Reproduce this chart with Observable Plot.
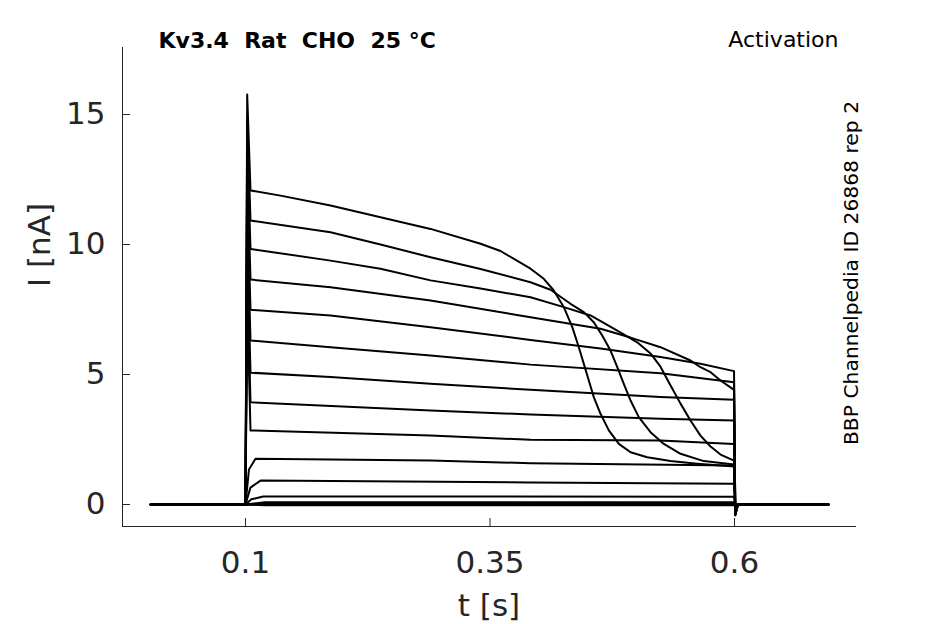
<!DOCTYPE html>
<html><head><meta charset="utf-8">
<script src="https://cdn.jsdelivr.net/npm/d3@7"></script>
<script src="https://cdn.jsdelivr.net/npm/@observablehq/plot@0.6"></script>
<style>html,body{margin:0;padding:0;background:#fff}</style>
</head><body><div id="chart"></div>
<script>
// ---- axis ticks ----
const xTicks = [0.1, 0.35, 0.6];
const xTickLabels = ["0.1", "0.35", "0.6"];
const yTicks = [0, 5, 10, 15];
const yTickLabels = ["0", "5", "10", "15"];

// ---- texts ----
const titleText = "Kv3.4  Rat  CHO  25 °C";
const protocolText = "Activation";
const sourceText = "BBP Channelpedia ID 26868 rep 2";
const xLabel = "t [s]";
const yLabel = "I [nA]";

// ---- recording timing [s] ----
const tRecordStart = 0.003, tStepOn = 0.1, tSpikePeak = 0.1017, tStepOff = 0.6, tDip = 0.6008, tBack = 0.6035, tRecordEnd = 0.696;

// ---- current traces during the step: [t (s), I (nA)] ----
const trace1 = [[0.1051,12.08],[0.1358,11.88],[0.1869,11.50],[0.2380,11.05],[0.2892,10.60],[0.3403,10.03],[0.3607,9.75],[0.3914,9.07],[0.4050,8.68],[0.4152,8.23],[0.4255,7.59],[0.4341,6.82],[0.4408,6.05],[0.4459,5.41],[0.4510,4.77],[0.4561,4.13],[0.4630,3.49],[0.4715,2.85],[0.4817,2.33],[0.4937,2.01],[0.5107,1.82],[0.5346,1.67],[0.5619,1.57],[0.5995,1.46]];
const trace2 = [[0.1051,10.92],[0.1869,10.47],[0.2380,10.00],[0.2892,9.51],[0.3403,9.06],[0.3914,8.55],[0.4119,8.26],[0.4323,7.72],[0.4459,7.40],[0.4561,7.01],[0.4647,6.50],[0.4732,5.92],[0.4801,5.28],[0.4868,4.64],[0.4937,4.00],[0.5021,3.36],[0.5141,2.78],[0.5277,2.33],[0.5448,1.95],[0.5686,1.67],[0.5995,1.54]];
const trace3 = [[0.1051,9.83],[0.1869,9.38],[0.2380,9.07],[0.2892,8.62],[0.3403,8.31],[0.3914,7.97],[0.4255,7.59],[0.4528,7.27],[0.4801,6.69],[0.5005,6.24],[0.5141,5.81],[0.5243,5.30],[0.5346,4.58],[0.5448,3.88],[0.5550,3.23],[0.5652,2.65],[0.5755,2.23],[0.5857,1.92],[0.5995,1.69]];
const trace4 = [[0.1051,8.65],[0.1869,8.36],[0.2892,7.85],[0.3914,7.20],[0.4630,6.76],[0.4937,6.42],[0.5243,6.05],[0.5550,5.54],[0.5652,5.28],[0.5755,5.09],[0.5857,4.77],[0.5995,4.41]];
const trace5 = [[0.1051,7.49],[0.1869,7.27],[0.2892,6.82],[0.3914,6.33],[0.4630,6.00],[0.5243,5.67],[0.5652,5.41],[0.5995,5.13]];
const trace6 = [[0.1051,6.31],[0.1869,6.05],[0.2892,5.73],[0.3914,5.38],[0.5243,5.05],[0.5995,4.70]];
const trace7 = [[0.1051,5.07],[0.1869,4.90],[0.2892,4.64],[0.3914,4.41],[0.5243,4.13],[0.5995,4.03]];
const trace8 = [[0.1051,3.93],[0.2892,3.62],[0.3914,3.46],[0.5243,3.30],[0.5995,3.23]];
const trace9 = [[0.1051,2.85],[0.2892,2.65],[0.3914,2.49],[0.5243,2.46],[0.5995,2.33]];
const trace10 = [[0.1035,1.35],[0.1102,1.76],[0.2892,1.69],[0.3914,1.59],[0.5995,1.50]];
const trace11 = [[0.1050,0.65],[0.1153,0.92],[0.3914,0.85],[0.5995,0.80]];
const trace12 = [[0.1060,0.20],[0.1180,0.31],[0.5995,0.30]];
const trace13 = [[0.1200,0.09],[0.5995,0.09]];
const trace14 = [[0.1200,0.03],[0.5995,0.03]];
const trace15 = [[0.1200,0.00],[0.5995,0.00]];
const trace16 = [[0.1200,-0.03],[0.5995,-0.03]];

// capacitive transient peak at step onset (nA), null where hidden
const onsetSpike = [15.77, 14.8, 13.8, 12.8, 11.8, 10.8, 9.8, 8.8, 7.8, null, null, null, null, null, null, null];
// negative tail transient at step offset (nA)
const offsetDip = [-0.42, -0.40, -0.38, -0.35, -0.32, -0.28, -0.24, -0.20, -0.16, -0.12, -0.09, -0.06, -0.04, -0.02, 0, 0];

const traces = [trace1, trace2, trace3, trace4, trace5, trace6, trace7, trace8, trace9, trace10, trace11, trace12, trace13, trace14, trace15, trace16];

const rows = [];
traces.forEach((tr, k) => {
  const pts = [[tRecordStart, 0], [tStepOn, 0]];
  if (onsetSpike[k] != null) pts.push([tSpikePeak, onsetSpike[k]]);
  tr.forEach(p => pts.push(p));
  pts.push([tDip, offsetDip[k]], [tBack, 0], [tRecordEnd, 0]);
  pts.forEach(([t, I]) => rows.push({trace: k + 1, t, I}));
});

const axisColor = "#262626";
const font = "DejaVu Sans";

const chart = Plot.plot({
  width: 945,
  height: 624,
  marginLeft: 122,
  marginRight: 90,
  marginTop: 47,
  marginBottom: 98,
  style: {fontFamily: font, background: "#fff", color: axisColor, overflow: "visible"},
  x: {domain: [-0.0258, 0.7237]},
  y: {domain: [-0.846, 17.577]},
  marks: [
    Plot.frame({anchor: "left", stroke: axisColor, strokeWidth: 1}),
    Plot.frame({anchor: "bottom", stroke: axisColor, strokeWidth: 1}),
    Plot.axisX({ticks: xTicks, tickFormat: (d, i) => xTickLabels[i], tickSize: -8, tickPadding: 32, fontSize: 31, label: null, stroke: axisColor, fill: axisColor}),
    Plot.axisY({ticks: yTicks, tickFormat: (d, i) => yTickLabels[i], tickSize: -8, tickPadding: 25, fontSize: 31, label: null, stroke: axisColor, fill: axisColor}),
    Plot.line(rows, {x: "t", y: "I", z: "trace", stroke: "#000", strokeWidth: 2, strokeLinejoin: "round", strokeLinecap: "round"}),
    Plot.text([xLabel], {frameAnchor: "bottom", dy: 89, lineAnchor: "bottom", fontSize: 31, fill: axisColor, text: d => d}),
    Plot.text([yLabel], {frameAnchor: "left", dx: -73, rotate: -90, lineAnchor: "bottom", fontSize: 31, fill: axisColor, text: d => d}),
    Plot.text([titleText], {frameAnchor: "top-left", dx: 36, dy: 0, textAnchor: "start", lineAnchor: "bottom", fontSize: 22, fontWeight: "bold", fill: "#000", text: d => d}),
    Plot.text([protocolText], {frameAnchor: "top-right", dx: -17, dy: -1, textAnchor: "end", lineAnchor: "bottom", fontSize: 22, fill: "#000", text: d => d}),
    Plot.text([sourceText], {frameAnchor: "right", dx: 2, dy: -14, rotate: -90, textAnchor: "middle", lineAnchor: "bottom", fontSize: 20.3, fill: "#000", text: d => d})
  ]
});
// keep the double spaces of the title visible
chart.querySelectorAll("text").forEach(t => {
  t.setAttributeNS("http://www.w3.org/XML/1998/namespace", "xml:space", "preserve");
  t.style.whiteSpace = "pre";
});
document.getElementById("chart").appendChild(chart);
</script>
</body></html>
